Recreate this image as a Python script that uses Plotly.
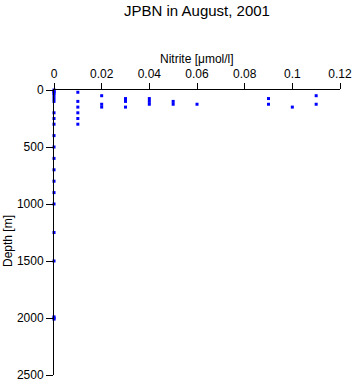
import plotly.graph_objects as go

nitrite_0 = [0, 0, 0, 0, 0, 0, 0, 0, 0, 0, 0, 0, 0, 0, 0, 0, 0, 0, 0, 0, 0, 0]
depth_0 = [0, 10, 20, 30, 50, 75, 100, 200, 250, 300, 400, 500, 600, 700, 800, 900, 1000, 1250, 1500, 1990, 2000, 2010]

nitrite_pos = [0.01, 0.01, 0.01, 0.01, 0.01, 0.01,
               0.02, 0.02, 0.02,
               0.03, 0.03, 0.03,
               0.04, 0.04, 0.04,
               0.05, 0.05,
               0.06,
               0.09, 0.09,
               0.10,
               0.11, 0.11]
depth_pos = [20, 100, 150, 200, 250, 300,
             50, 125, 150,
             75, 100, 150,
             75, 100, 125,
             100, 125,
             125,
             75, 125,
             150,
             50, 125]

nitrite = nitrite_0 + nitrite_pos
depth = depth_0 + depth_pos

x_ticks = [0, 0.02, 0.04, 0.06, 0.08, 0.1, 0.12]
x_tick_labels = ["0", "0.02", "0.04", "0.06", "0.08", "0.1", "0.12"]
y_ticks = [0, 500, 1000, 1500, 2000, 2500]
y_tick_labels = ["0", "500", "1000", "1500", "2000", "2500"]

W, H = 353, 384
L, R, T, B = 54, 13, 90, 9
PW, PH = W - L - R, H - T - B

fig = go.Figure()
fig.add_trace(go.Scatter(
    x=nitrite, y=depth, mode="markers",
    marker=dict(symbol="square", size=3, color="#0000ff", line=dict(width=0)),
    cliponaxis=False, showlegend=False,
))

font = "Liberation Sans, Arial, sans-serif"
fig.update_layout(
    width=W, height=H,
    margin=dict(l=L, r=R, t=T, b=B, autoexpand=False),
    paper_bgcolor="white", plot_bgcolor="white",
    font=dict(family=font, size=12, color="black"),
    title=dict(text="JPBN in August, 2001", x=0.5, xanchor="center",
               xref="paper", y=1 - 11 / H, yanchor="middle",
               font=dict(family=font, size=15, color="black")),
    xaxis=dict(
        side="top", range=[0, 0.12], tickvals=x_ticks, ticktext=x_tick_labels,
        showline=True, linecolor="black", linewidth=1,
        ticks="outside", ticklen=6, tickcolor="black",
        showgrid=False, zeroline=False, mirror=False, automargin=False,
        tickfont=dict(size=12),
    ),
    yaxis=dict(
        range=[2500, 0], tickvals=y_ticks, ticktext=y_tick_labels,
        showline=True, linecolor="black", linewidth=1,
        ticks="outside", ticklen=7, tickcolor="black",
        showgrid=False, zeroline=False, automargin=False,
        tickfont=dict(size=12),
    ),
    annotations=[
        dict(text="Nitrite [μmol/l]", xref="paper", yref="paper",
             x=0.5, y=(H - B - 59) / PH, showarrow=False,
             xanchor="center", yanchor="middle",
             font=dict(family=font, size=12)),
        dict(text="Depth [m]", xref="paper", yref="paper",
             x=(8 - L) / PW, y=(H - B - 241) / PH,
             showarrow=False, textangle=-90,
             xanchor="center", yanchor="middle",
             font=dict(family=font, size=12)),
    ],
)

fig.write_html("out.html")
